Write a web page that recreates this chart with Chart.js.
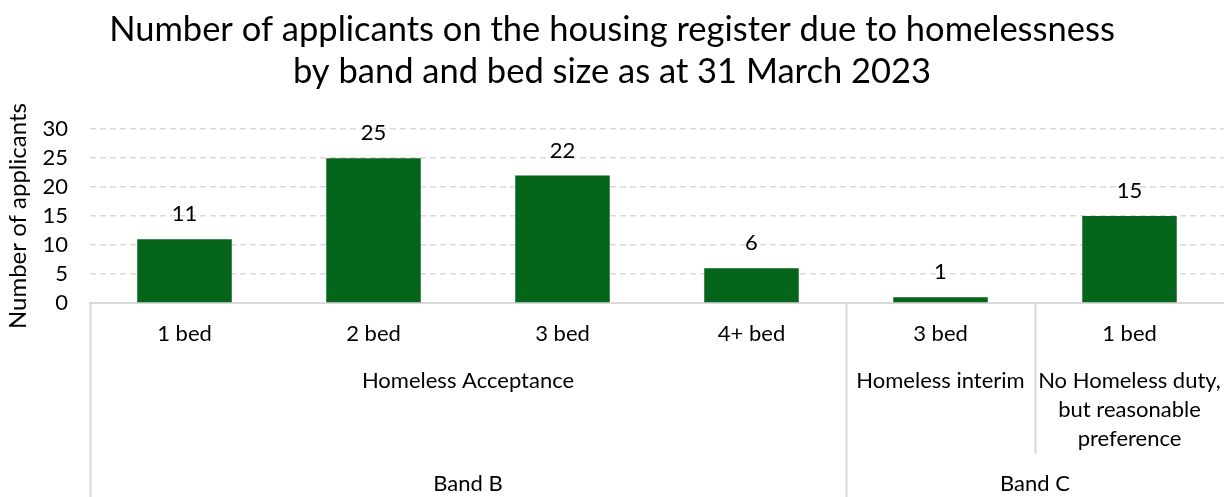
<!DOCTYPE html>
<html>
<head>
<meta charset="utf-8">
<script src="https://cdn.jsdelivr.net/npm/chart.js@4"></script>
<style>
  html, body { margin: 0; padding: 0; background: #fff; }
  #wrap { width: 1224px; height: 497px; }
</style>
</head>
<body>
<div id="wrap"><canvas id="chart"></canvas></div>
<script>
// Chart data
const bedSizes = ['1 bed', '2 bed', '3 bed', '4+ bed', '3 bed', '1 bed'];
const applicants = [11, 25, 22, 6, 1, 15];
const dutyLabels = [['Homeless Acceptance'], ['Homeless interim'], ['No Homeless duty,', 'but reasonable', 'preference']];
const dutySpans = [4, 1, 1];
const bandLabels = ['Band B', 'Band C'];
const bandSpans = [4, 2];
const yTicks = [0, 5, 10, 15, 20, 25, 30];

const FONT = 'Lato, "Open Sans", sans-serif';
const LINE = '#d9d9d9';

// Value labels above each bar
const valueLabels = {
    id: 'valueLabels',
    afterDatasetsDraw(chart) {
        const ctx = chart.ctx;
        const meta = chart.getDatasetMeta(0);
        ctx.save();
        ctx.font = '22px ' + FONT;
        ctx.fillStyle = '#000';
        ctx.textAlign = 'center';
        ctx.textBaseline = 'middle';
        meta.data.forEach((bar, i) => {
            ctx.fillText(String(applicants[i]), bar.x, bar.y - 25);
        });
        ctx.restore();
    }
};

// Multi-level category axis (bed size / duty / band)
const multiLevelAxis = {
    id: 'multiLevelAxis',
    afterDraw(chart) {
        const ctx = chart.ctx;
        const x = chart.scales.x;
        const area = chart.chartArea;
        const step = x.getPixelForValue(1) - x.getPixelForValue(0);
        const edge = i => x.getPixelForValue(i) - step / 2;
        const row2 = area.bottom + 151;
        const bottom = chart.height;

        ctx.save();
        ctx.fillStyle = '#000';
        ctx.textAlign = 'center';
        ctx.textBaseline = 'middle';
        ctx.font = '22px ' + FONT;

        bedSizes.forEach((b, i) => {
            ctx.fillText(b, x.getPixelForValue(i), area.bottom + 31);
        });

        let start = 0;
        dutyLabels.forEach((lines, g) => {
            const end = start + dutySpans[g];
            const cx = (edge(start) + edge(end)) / 2;
            lines.forEach((t, k) => ctx.fillText(t, cx, area.bottom + 78 + k * 29));
            start = end;
        });

        start = 0;
        bandLabels.forEach((t, g) => {
            const end = start + bandSpans[g];
            ctx.fillText(t, (edge(start) + edge(end)) / 2, area.bottom + 181);
            start = end;
        });

        ctx.strokeStyle = LINE;
        ctx.lineWidth = 2;
        ctx.beginPath();
        // separators between duty groups
        start = 0;
        dutySpans.forEach(s => {
            const px = Math.round(edge(start)) + 0.5;
            ctx.moveTo(px, area.bottom);
            ctx.lineTo(px, row2);
            start += s;
        });
        // separators between bands
        start = 0;
        bandSpans.forEach(s => {
            const px = Math.round(edge(start)) + 0.5;
            ctx.moveTo(px, area.bottom);
            ctx.lineTo(px, bottom);
            start += s;
        });
        ctx.stroke();
        ctx.restore();
    }
};

new Chart(document.getElementById('chart'), {
    type: 'bar',
    data: {
        labels: bedSizes,
        datasets: [{
            data: applicants,
            backgroundColor: '#04651b',
            borderWidth: 0,
            barPercentage: 1,
            categoryPercentage: 0.5
        }]
    },
    options: {
        responsive: true,
        maintainAspectRatio: false,
        animation: false,
        events: [],
        layout: { padding: { left: 0, right: 0, top: 0, bottom: 186 } },
        plugins: {
            legend: { display: false },
            tooltip: { enabled: false },
            title: {
                display: true,
                text: ['Number of applicants on the housing register due to homelessness',
                       'by band and bed size as at 31 March 2023'],
                color: '#000',
                font: { family: FONT, size: 34.5, weight: 'normal', lineHeight: 1.22 },
                padding: { top: 9, bottom: 36 }
            }
        },
        scales: {
            x: {
                grid: { display: false },
                border: { display: true, color: LINE, width: 2 },
                ticks: { display: false }
            },
            y: {
                min: 0,
                max: 30,
                afterBuildTicks(scale) {
                    scale.ticks = yTicks.map(v => ({ value: v }));
                },
                afterFit(scale) { scale.width = 90; },
                grid: { color: LINE, lineWidth: 1.5, drawTicks: false },
                border: { display: false, dash: [6, 4] },
                ticks: { color: '#000', padding: 22, autoSkip: false, font: { family: FONT, size: 22 } },
                title: {
                    display: true,
                    text: 'Number of applicants',
                    color: '#000',
                    font: { family: FONT, size: 24 },
                    padding: { top: 4, bottom: 0 }
                }
            }
        }
    },
    plugins: [valueLabels, multiLevelAxis]
});
</script>
</body>
</html>
